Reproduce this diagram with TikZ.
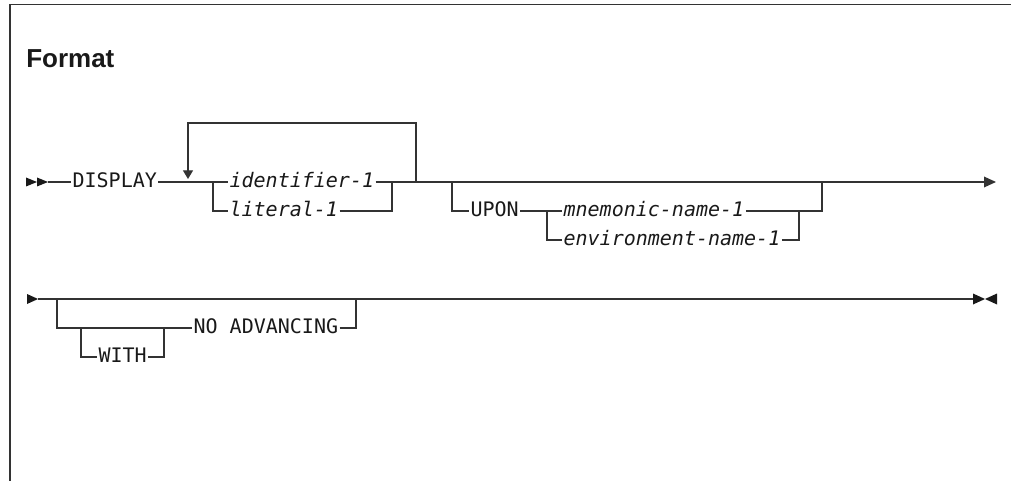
\documentclass[tikz,border=0pt]{standalone}
\usepackage{fontspec}
\newfontfamily\railfont{DejaVu Sans Mono}
\newfontfamily\headfont{Liberation Sans}
\usetikzlibrary{arrows.meta}

\begin{document}
\begin{tikzpicture}[
  x=0.75pt, y=-0.75pt,
  rail/.style={line width=0.95pt, black!80},
  tip/.style={-{Triangle[length=9pt, width=8pt]}},
  back/.style={-{Triangle[length=6.5pt, width=7.5pt]}},
  endmark/.style={fill=black!90},
  kw/.style={inner sep=0pt, outer sep=1.2pt, anchor=west, text=black!90,
    text height=11.25pt, text depth=3pt, font=\railfont\fontsize{15}{18}\selectfont},
  var/.style={kw, font=\railfont\fontsize{15}{18}\selectfont\itshape},
]
\useasboundingbox (0,0) rectangle (1011,481);

% ====== Frame and heading ======
\draw[line width=1.2pt, black!80] (1011,4.5) -- (10,4.5) -- (10,481);
\node[font=\headfont\bfseries\fontsize{19.5}{23}\selectfont, anchor=base west,
  inner sep=0pt, text=black!90] (fmt) at (26,68) {Format};

% ====== Row 1: DISPLAY ======
\fill[endmark] (26,177.5) -- (37,182) -- (26,186.5) -- cycle;
\fill[endmark] (37,177.5) -- (48,182) -- (37,186.5) -- cycle;
\coordinate (st1) at (48,182);
\coordinate (end1) at (996,182);

\node[kw] (disp) at (71,182) {DISPLAY};
\node[var] (id) at (228,182) {identifier-1};
\node[var] (lit) at (228,211) {literal-1};

\coordinate (b1l) at (213,182);
\coordinate (b1r) at (392,182);
\coordinate (loopR) at (416,182);
\coordinate (loopL) at (188,179);

\draw[rail] (st1) -- (disp);
\draw[rail] (disp) -- (id);
\draw[rail, tip] (id) -- (end1);
\draw[rail] (b1l) |- (lit);
\draw[rail] (lit) -| (b1r);
\draw[rail, back] (loopR) -- ++(0,-59) -| (loopL);

% ====== UPON branch ======
\node[kw] (upon) at (469,211) {UPON};
\node[var] (mnem) at (562,211) {mnemonic-name-1};
\node[var] (env) at (562,240) {environment-name-1};

\coordinate (b2l) at (452,182);
\coordinate (b2r) at (822,182);
\coordinate (b3l) at (547,211);
\coordinate (b3r) at (799,211);

\draw[rail] (b2l) |- (upon);
\draw[rail] (upon) -- (mnem);
\draw[rail] (mnem) -| (b2r);
\draw[rail] (b3l) |- (env);
\draw[rail] (env) -| (b3r);

% ====== Row 2: WITH NO ADVANCING ======
\fill[endmark] (27,294) -- (38,299) -- (27,304) -- cycle;
\fill[endmark] (973,293.5) -- (985,299) -- (973,304.5) -- cycle;
\fill[endmark] (997,293.5) -- (985,299) -- (997,304.5) -- cycle;
\coordinate (st2) at (38,299);
\coordinate (end2) at (973,299);

\node[kw] (noadv) at (192,328) {NO ADVANCING};
\node[kw] (with) at (97,357) {WITH};

\coordinate (b4l) at (57,299);
\coordinate (b4r) at (356,299);
\coordinate (b5l) at (81,328);
\coordinate (b5r) at (164,328);

\draw[rail] (st2) -- (end2);
\draw[rail] (b4l) |- (noadv);
\draw[rail] (noadv) -| (b4r);
\draw[rail] (b5l) |- (with);
\draw[rail] (with) -| (b5r);

\end{tikzpicture}
\end{document}
